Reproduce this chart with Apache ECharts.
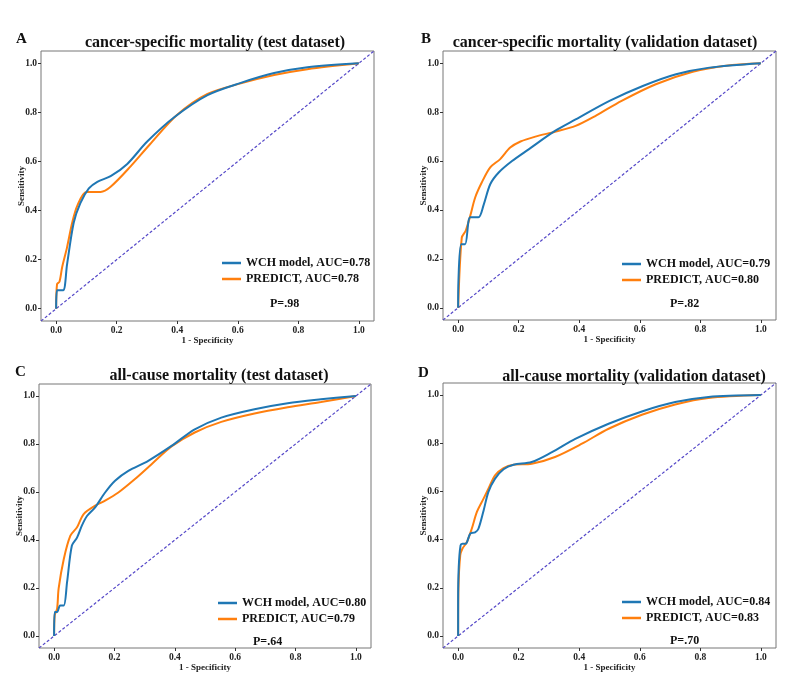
<!DOCTYPE html>
<html>
<head>
<meta charset="utf-8">
<script src="https://cdn.jsdelivr.net/npm/echarts@6/dist/echarts.min.js"></script>
<style>
    html, body {margin: 0; padding: 0; background: #fff;}
    #main {width: 800px; height: 685px;}
</style>
</head>
<body>
<div id="main"></div>
<script>
// ROC points: [1 - specificity, sensitivity]
var csTestWch = [[0,0],[0.003,0.075],[0.023,0.075],[0.036,0.18],[0.058,0.35],[0.08,0.43],[0.108,0.49],[0.136,0.517],[0.18,0.54],[0.235,0.59],[0.30,0.68],[0.39,0.78],[0.50,0.87],[0.61,0.92],[0.72,0.96],[0.83,0.984],[1,1]];
var csTestPredict = [[0,0],[0.003,0.10],[0.011,0.11],[0.02,0.17],[0.036,0.25],[0.053,0.35],[0.07,0.42],[0.10,0.476],[0.147,0.476],[0.18,0.497],[0.246,0.58],[0.31,0.67],[0.40,0.79],[0.50,0.875],[0.61,0.918],[0.72,0.952],[0.83,0.976],[1,1]];

var csValWch = [[0,0],[0.001,0.11],[0.01,0.26],[0.023,0.26],[0.04,0.37],[0.067,0.37],[0.084,0.42],[0.106,0.505],[0.134,0.553],[0.178,0.60],[0.233,0.648],[0.32,0.723],[0.388,0.77],[0.50,0.846],[0.61,0.907],[0.72,0.955],[0.83,0.982],[1,1]];
var csValPredict = [[0,0],[0.012,0.287],[0.025,0.315],[0.04,0.376],[0.056,0.45],[0.078,0.512],[0.106,0.574],[0.139,0.608],[0.172,0.655],[0.206,0.68],[0.255,0.70],[0.32,0.72],[0.388,0.744],[0.454,0.785],[0.54,0.846],[0.653,0.914],[0.775,0.965],[0.885,0.99],[1,1]];

var acTestWch = [[0,0],[0.002,0.10],[0.01,0.10],[0.02,0.127],[0.032,0.127],[0.043,0.224],[0.059,0.377],[0.076,0.41],[0.092,0.46],[0.109,0.50],[0.136,0.536],[0.169,0.598],[0.202,0.647],[0.246,0.688],[0.312,0.73],[0.389,0.792],[0.466,0.861],[0.554,0.91],[0.664,0.945],[0.774,0.97],[0.884,0.986],[1,1]];
var acTestPredict = [[0,0],[0.002,0.086],[0.01,0.114],[0.015,0.197],[0.032,0.32],[0.054,0.418],[0.076,0.453],[0.098,0.508],[0.136,0.543],[0.169,0.564],[0.213,0.598],[0.268,0.654],[0.323,0.716],[0.389,0.79],[0.466,0.848],[0.554,0.892],[0.664,0.927],[0.774,0.953],[0.884,0.975],[1,1]];

var acValWch = [[0,0],[0,0.14],[0.002,0.286],[0.008,0.376],[0.014,0.383],[0.025,0.383],[0.04,0.425],[0.056,0.43],[0.067,0.445],[0.084,0.52],[0.10,0.598],[0.122,0.653],[0.15,0.692],[0.183,0.711],[0.243,0.722],[0.31,0.763],[0.387,0.818],[0.497,0.881],[0.607,0.932],[0.717,0.971],[0.827,0.992],[1,1]];
var acValPredict = [[0,0],[0.001,0.196],[0.007,0.335],[0.014,0.362],[0.029,0.39],[0.045,0.445],[0.062,0.515],[0.084,0.57],[0.10,0.611],[0.122,0.667],[0.15,0.697],[0.183,0.711],[0.243,0.715],[0.32,0.743],[0.409,0.798],[0.497,0.86],[0.607,0.918],[0.717,0.961],[0.827,0.988],[1,1]];

var diagonal = [[-0.05,-0.05],[1.05,1.05]];
var tickValues = [0, 0.2, 0.4, 0.6, 0.8, 1.0];

var panelLetters = ['A', 'B', 'C', 'D'];
var panelTitles = [
    'cancer-specific mortality (test dataset)',
    'cancer-specific mortality (validation dataset)',
    'all-cause mortality (test dataset)',
    'all-cause mortality (validation dataset)'
];
var wchNames = ['WCH model, AUC=0.78', 'WCH model, AUC=0.79', 'WCH model, AUC=0.80', 'WCH model, AUC=0.84'];
var predictNames = ['PREDICT, AUC=0.78', 'PREDICT, AUC=0.80', 'PREDICT, AUC=0.79', 'PREDICT, AUC=0.83'];
var pValues = ['P=.98', 'P=.82', 'P=.64', 'P=.70'];
var wchData = [csTestWch, csValWch, acTestWch, acValWch];
var predictData = [csTestPredict, csValPredict, acTestPredict, acValPredict];

// layout of each panel (pixels)
var grids = [
    {left: 41, top: 51, width: 333, height: 270},
    {left: 443, top: 51, width: 333, height: 269},
    {left: 39, top: 384, width: 332, height: 264},
    {left: 443, top: 383, width: 333, height: 265}
];
var titlePos = [[210, 30], [600, 30], [214, 363], [629, 364]];
var letterPos = [[11, 27], [416, 27], [10, 360], [413, 361]];
var legendPos = [[222, 257], [622, 258], [218, 597], [622, 596]];
var pPos = [[265, 293], [665, 293], [248, 631], [665, 630]];

var font = '"Liberation Serif", "Times New Roman", serif';

var option = {
    backgroundColor: '#fff',
    animation: false,
    textStyle: {fontFamily: font},
    title: [],
    legend: [],
    grid: [],
    xAxis: [],
    yAxis: [],
    series: []
};

for (var i = 0; i < 4; i++) {
    option.grid.push({
        left: grids[i].left, top: grids[i].top,
        width: grids[i].width, height: grids[i].height,
        show: true, borderColor: '#777', borderWidth: 1, backgroundColor: '#fff'
    });
    option.xAxis.push({
        type: 'value', gridIndex: i, min: -0.05, max: 1.05,
        name: '1 - Specificity', nameLocation: 'middle', nameGap: 15, nameMoveOverlap: false,
        nameTextStyle: {fontFamily: font, fontWeight: 'bold', fontSize: 9, color: '#222'},
        axisLine: {show: false, onZero: false},
        splitLine: {show: false},
        axisTick: {show: true, inside: false, length: 3, customValues: tickValues, lineStyle: {color: '#333'}},
        axisLabel: {
            customValues: tickValues, margin: 5, fontFamily: font, fontWeight: 'bold', fontSize: 9.5, color: '#222',
            formatter: function (v) { return v.toFixed(1); }
        }
    });
    option.yAxis.push({
        type: 'value', gridIndex: i, min: -0.05, max: 1.05,
        name: 'Sensitivity', nameLocation: 'middle', nameGap: 15, nameMoveOverlap: false,
        nameTextStyle: {fontFamily: font, fontWeight: 'bold', fontSize: 9, color: '#222'},
        axisLine: {show: false, onZero: false},
        splitLine: {show: false},
        axisTick: {show: true, inside: false, length: 3, customValues: tickValues, lineStyle: {color: '#333'}},
        axisLabel: {
            customValues: tickValues, margin: 4, fontFamily: font, fontWeight: 'bold', fontSize: 9.5, color: '#222',
            formatter: function (v) { return v.toFixed(1); }
        }
    });
    option.title.push({
        text: panelTitles[i], left: titlePos[i][0], top: titlePos[i][1], textAlign: 'center',
        textStyle: {fontFamily: font, fontWeight: 'bold', fontSize: 16, color: '#111'}
    });
    option.title.push({
        text: panelLetters[i], left: letterPos[i][0], top: letterPos[i][1],
        textStyle: {fontFamily: font, fontWeight: 'bold', fontSize: 15, color: '#111'}
    });
    option.title.push({
        text: pValues[i], left: pPos[i][0], top: pPos[i][1],
        textStyle: {fontFamily: font, fontWeight: 'bold', fontSize: 12, color: '#111'}
    });
    option.legend.push({
        data: [wchNames[i], predictNames[i]],
        orient: 'vertical', left: legendPos[i][0], top: legendPos[i][1],
        icon: 'rect', itemWidth: 19, itemHeight: 2.5, itemGap: 4, padding: 0,
        textStyle: {fontFamily: font, fontWeight: 'bold', fontSize: 12, color: '#111', padding: [0, 0, 0, 0]}
    });
    // chance line
    option.series.push({
        type: 'line', xAxisIndex: i, yAxisIndex: i, data: diagonal,
        showSymbol: false, silent: true, z: 1,
        lineStyle: {color: '#5548c8', width: 1.2, type: [3, 2]}
    });
    option.series.push({
        name: wchNames[i], type: 'line', xAxisIndex: i, yAxisIndex: i, data: wchData[i],
        showSymbol: false, smooth: 0.3, z: 3,
        itemStyle: {color: '#1f77b4'},
        lineStyle: {color: '#1f77b4', width: 2}
    });
    option.series.push({
        name: predictNames[i], type: 'line', xAxisIndex: i, yAxisIndex: i, data: predictData[i],
        showSymbol: false, smooth: 0.3, z: 2,
        itemStyle: {color: '#ff7f0e'},
        lineStyle: {color: '#ff7f0e', width: 2}
    });
}

var myChart = echarts.init(document.getElementById('main'));
myChart.setOption(option);
</script>
</body>
</html>
